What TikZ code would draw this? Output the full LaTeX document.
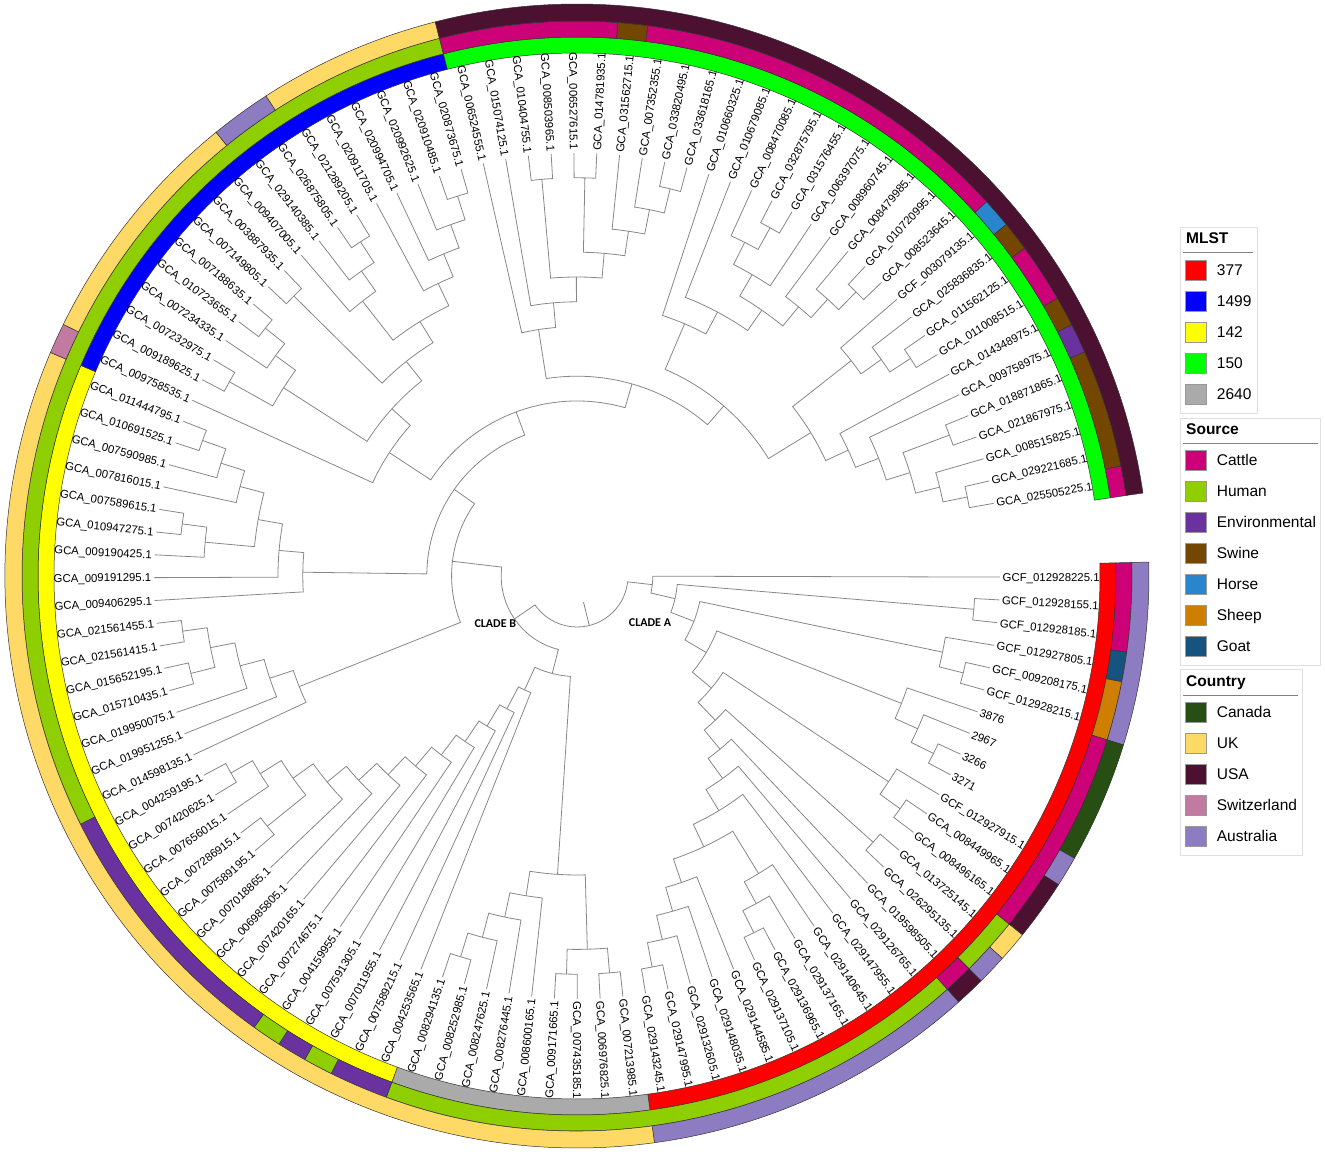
\documentclass[tikz,border=0pt]{standalone}
\usepackage{fontspec}
\setmainfont{Liberation Sans}
\newfontfamily\cladefont{Carlito}
\usepackage{tikz}

\definecolor{c377}{HTML}{FF0000}
\definecolor{c1499}{HTML}{0000FF}
\definecolor{c142}{HTML}{FFFF00}
\definecolor{c150}{HTML}{00FF00}
\definecolor{c2640}{HTML}{AAAAAA}
\definecolor{cattle}{HTML}{CC0077}
\definecolor{human}{HTML}{8FCE00}
\definecolor{environ}{HTML}{6A329F}
\definecolor{swine}{HTML}{744700}
\definecolor{horse}{HTML}{2986CC}
\definecolor{sheep}{HTML}{CE7E00}
\definecolor{goat}{HTML}{16537E}
\definecolor{canada}{HTML}{274E13}
\definecolor{uk}{HTML}{FFD966}
\definecolor{usa}{HTML}{4C1130}
\definecolor{swiss}{HTML}{C27BA0}
\definecolor{australia}{HTML}{8E7CC3}

\newcommand\leaffont{\fontsize{11.4}{12}\selectfont}
\newcommand\legfont{\fontsize{15.5}{17}\selectfont}

% leaf i sits at angle 2.9485-3.097*i, a clade of height h at radius 423-24.8*h
\newcommand\clade[5]{%
  \pgfmathsetmacro\cladeA{2.9485-3.097*(#2)}%
  \pgfmathsetmacro\cladeB{2.9485-3.097*(#4)}%
  \pgfmathsetmacro\cladeR{423-24.8*(#1)}%
  \pgfmathsetmacro\cladeRa{423-24.8*(#3)}%
  \pgfmathsetmacro\cladeRb{423-24.8*(#5)}%
  \draw[branch] (\cladeA:\cladeRa pt) -- (\cladeA:\cladeR pt)
    arc[start angle=\cladeA, end angle=\cladeB, radius=\cladeR pt] -- (\cladeB:\cladeRb pt);}

% ring piece from leaf #3 to leaf #4
\newcommand\ringseg[5]{%
  \pgfmathsetmacro\segS{1.4-3.097*(#3-1)}%
  \pgfmathsetmacro\segE{1.4-3.097*(#4)}%
  \filldraw[ringline, fill=#5] (\segS:#1pt) arc[start angle=\segS, end angle=\segE, radius=#1pt]
    -- (\segE:#2pt) arc[start angle=\segE, end angle=\segS, radius=#2pt] -- cycle;}

\begin{document}
\begin{tikzpicture}[x=1pt, y=1pt,
  branch/.style={draw=black!47, line width=0.8pt},
  ringline/.style={draw=black!80, line width=0.5pt},
  leaflbl/.style={font=\leaffont, inner sep=1.5pt, text height=8.2pt, text depth=0pt},
  cladelbl/.style={font=\fontsize{12}{12}\cladefont\bfseries, inner sep=0pt},
  legbox/.style={draw=black!12, line width=0.7pt},
  legtitle/.style={font=\legfont\bfseries, anchor=west, inner sep=0pt, text height=11pt, text depth=0pt},
  legtext/.style={font=\legfont, anchor=west, inner sep=0pt, text height=11pt, text depth=0pt},
  swatch/.style={draw=black!40, line width=0.6pt, minimum width=21pt, minimum height=20pt, inner sep=0pt}]
\useasboundingbox (-577,-579) rectangle (748,576);

% rings: MLST, Source, Country
\foreach \a/\b/\col in {1/27/c377, 28/36/c2640, 37/66/c142, 67/83/c1499, 84/114/c150}
  {\ringseg{523}{539}{\a}{\b}{\col}}
\foreach \a/\b/\col in {1/3/cattle, 4/4/goat, 5/6/sheep, 7/13/cattle, 14/15/human, 16/16/cattle,
  17/36/human, 37/38/environ, 39/39/human, 40/40/environ, 41/41/human, 42/50/environ, 51/83/human,
  84/89/cattle, 90/90/swine, 91/103/cattle, 104/104/horse, 105/105/swine, 106/107/cattle,
  108/108/swine, 109/109/environ, 110/113/swine, 114/114/cattle}
  {\ringseg{539}{555}{\a}{\b}{\col}}
\foreach \a/\b/\col in {1/6/australia, 7/10/canada, 11/11/australia, 12/13/usa, 14/14/uk,
  15/15/australia, 16/16/usa, 17/27/australia, 28/66/uk, 67/67/swiss, 68/75/uk,
  76/77/australia, 78/83/uk, 84/114/usa}
  {\ringseg{555}{572}{\a}{\b}{\col}}

% cladogram: height / first child index / its height / second child index / its height
\foreach \h/\ia/\ha/\ib/\hb in {
  1/2/0/3/0, 1/5/0/6/0, 2/4/0/5.5/1, 1/9/0/10/0, 2/8/0/9.5/1, 3/7/0/8.75/2,
  1/12/0/13/0, 2/11/0/12.5/1, 1/14/0/15/0, 1/21/0/22/0, 2/20/0/21.5/1, 3/19/0/20.75/2,
  1/26/0/27/0, 2/25/0/26.5/1, 3/24/0/25.75/2, 4/23/0/24.875/3, 5/19.875/3/23.9375/4,
  6/18/0/21.906/5, 7/17/0/19.953/6, 8/16/0/18.477/7, 9/14.5/1/17.238/8,
  10/11.75/2/15.869/9, 11/7.875/3/13.81/10, 12/4.75/2/10.842/11, 13/2.5/1/7.796/12,
  14/1/0/5.148/13,
  1/28/0/29/0, 1/30/0/31/0, 2/28.5/1/30.5/1, 1/35/0/36/0, 2/34/0/35.5/1, 3/33/0/34.75/2,
  4/32/0/33.875/3, 5/29.5/2/32.9375/4,
  1/49/0/50/0, 2/48/0/49.5/1, 1/46/0/47/0, 3/46.5/1/48.75/2, 4/45/0/47.625/3,
  5/44/0/46.3125/4, 6/43/0/45.156/5, 7/42/0/44.078/6, 8/41/0/43.039/7, 9/40/0/42.02/8,
  10/39/0/41.01/9, 11/38/0/40.005/10, 12/37/0/39.0/11, 13/31.219/5/38.0/12,
  1/56/0/57/0, 1/54/0/55/0, 2/54.5/1/56.5/1, 3/53/0/55.5/2, 4/52/0/54.25/3, 5/51/0/53.125/4,
  1/65/0/66/0, 2/64/0/65.5/1, 3/63/0/64.75/2, 1/61/0/62/0, 2/60/0/61.5/1,
  4/60.75/2/63.875/3, 5/59/0/62.3125/4, 6/58/0/60.656/5,
  1/68/0/69/0, 1/71/0/72/0, 2/70/0/71.5/1, 3/68.5/1/70.75/2, 1/73/0/74/0,
  1/77/0/78/0, 2/76/0/77.5/1, 3/75/0/76.75/2, 1/82/0/83/0, 2/81/0/82.5/1, 3/80/0/81.75/2,
  4/79/0/80.875/3, 5/75.875/3/79.9375/4, 6/73.5/1/77.906/5, 7/69.625/3/75.703/6,
  8/67/0/72.664/7,
  1/86/0/87/0, 1/88/0/89/0, 1/92/0/93/0, 2/91/0/92.5/1, 3/90/0/91.75/2, 4/88.5/1/90.875/3,
  5/86.5/1/89.6875/4, 6/85/0/88.094/5, 7/84/0/86.547/6,
  1/113/0/114/0, 2/112/0/113.5/1, 1/110/0/111/0, 3/110.5/1/112.75/2, 4/109/0/111.625/3,
  5/108/0/110.3125/4, 1/106/0/107/0, 2/105/0/106.5/1, 3/104/0/105.75/2,
  6/104.875/3/109.156/5, 1/102/0/103/0, 2/101/0/102.5/1, 3/100/0/101.75/2,
  1/97/0/98/0, 2/96/0/97.5/1, 3/96.75/2/99/0, 4/97.875/3/100.875/3, 5/95/0/99.375/4,
  6/94/0/97.1875/5, 8/95.594/6/107.016/6,
  9/85.273/7/101.305/8, 10/69.832/8/93.29/9, 11/59.328/6/81.56/10, 12/52.0625/5/70.44/11,
  14/34.61/13/61.25/12, 15/3.074/14/47.93/14}
  {\clade{\h}{\ia}{\ha}{\ib}{\hb}}
\draw[branch] (-76.02:27pt) -- (-76.02:51pt);

% leaf labels
\foreach \nm [count=\i] in {GCF\_012928225.1, GCF\_012928155.1, GCF\_012928185.1,
  GCF\_012927805.1, GCF\_009208175.1, GCF\_012928215.1, 3876, 2967, 3266, 3271,
  GCF\_012927915.1, GCA\_008449965.1, GCA\_008496165.1, GCA\_013725145.1, GCA\_026295135.1,
  GCA\_019598505.1, GCA\_029126765.1, GCA\_029147955.1, GCA\_029140645.1, GCA\_029137165.1,
  GCA\_029136965.1, GCA\_029137105.1, GCA\_029144585.1, GCA\_029148035.1, GCA\_029132605.1,
  GCA\_029147995.1, GCA\_029143245.1, GCA\_007213985.1, GCA\_006976825.1, GCA\_007435185.1,
  GCA\_009171665.1, GCA\_008600165.1, GCA\_008276445.1, GCA\_008247625.1, GCA\_008252985.1,
  GCA\_008294135.1, GCA\_004253565.1, GCA\_007589215.1, GCA\_007011955.1, GCA\_007591305.1,
  GCA\_004159955.1, GCA\_007274675.1, GCA\_007420165.1, GCA\_006985805.1, GCA\_007018865.1,
  GCA\_007589195.1, GCA\_007286915.1, GCA\_007656015.1, GCA\_007420625.1, GCA\_004259195.1,
  GCA\_014598135.1, GCA\_019951255.1, GCA\_019950075.1, GCA\_015710435.1, GCA\_015652195.1,
  GCA\_021561415.1, GCA\_021561455.1, GCA\_009406295.1, GCA\_009191295.1, GCA\_009190425.1,
  GCA\_010947275.1, GCA\_007589615.1, GCA\_007816015.1, GCA\_007590985.1, GCA\_010691525.1,
  GCA\_011444795.1, GCA\_009758535.1, GCA\_009189625.1, GCA\_007232975.1, GCA\_007234335.1,
  GCA\_010723655.1, GCA\_007188635.1, GCA\_007149805.1, GCA\_003887935.1, GCA\_009407005.1,
  GCA\_029140385.1, GCA\_026875805.1, GCA\_021289205.1, GCA\_020911705.1, GCA\_020994705.1,
  GCA\_020992625.1, GCA\_020910485.1, GCA\_020873675.1, GCA\_006524555.1, GCA\_015074125.1,
  GCA\_010404755.1, GCA\_008503965.1, GCA\_006527615.1, GCA\_014781935.1, GCA\_031562715.1,
  GCA\_007352355.1, GCA\_033820495.1, GCA\_033618165.1, GCA\_010660325.1, GCA\_010679085.1,
  GCA\_008470085.1, GCA\_032875795.1, GCA\_031576455.1, GCA\_006397075.1, GCA\_008960745.1,
  GCA\_008479985.1, GCA\_010720995.1, GCA\_008523645.1, GCF\_003079135.1, GCA\_025836835.1,
  GCA\_011562125.1, GCA\_011008515.1, GCA\_014348975.1, GCA\_009758975.1, GCA\_018871865.1,
  GCA\_021867975.1, GCA\_008515825.1, GCA\_029221685.1, GCA\_025505225.1} {
  \pgfmathsetmacro\th{2.9485-3.097*\i}
  \pgfmathtruncatemacro\flip{(\th<-90)&&(\th>-270)}
  \pgfmathsetmacro\rot{\th+180}
  \ifnum\flip=1
    \node[leaflbl, anchor=east, rotate=\rot] (leaf\i) at (\th:424pt) {\nm};
  \else
    \node[leaflbl, anchor=west, rotate=\th] (leaf\i) at (\th:424pt) {\nm};
  \fi
}

\node[cladelbl] (cladeB) at (-81.7,-47.3) {CLADE B};
\node[cladelbl] (cladeA) at (73,-46.3) {CLADE A};

% legend
\draw[legbox] (603,163) rectangle (680,349);
\node[legtitle] (mlst) at (609,337.5) {MLST};
\draw[black!50, line width=0.7pt] (606,323.5) -- (676,323.5);
\foreach \col/\t [count=\k from 0] in {c377/377, c1499/1499, c142/142, c150/150, c2640/2640} {
  \node[swatch, fill=\col] (mlstsw\k) at (618.5,{306-31*\k}) {};
  \node[legtext] (mlsttx\k) at (639.7,{306-31*\k}) {\t};
}
\draw[legbox] (603,-89) rectangle (743,158);
\node[legtitle] (source) at (609,147) {Source};
\draw[black!50, line width=0.7pt] (606,132.6) -- (741,132.6);
\foreach \col/\t [count=\k from 0] in {cattle/Cattle, human/Human, environ/Environmental,
  swine/Swine, horse/Horse, sheep/Sheep, goat/Goat} {
  \node[swatch, fill=\col] (srcsw\k) at (618.5,{116-31*\k}) {};
  \node[legtext] (srctx\k) at (639.7,{116-31*\k}) {\t};
}
\draw[legbox] (603,-279) rectangle (725,-93);
\node[legtitle] (country) at (609,-105.5) {Country};
\draw[black!50, line width=0.7pt] (606,-119) -- (721,-119);
\foreach \col/\t [count=\k from 0] in {canada/Canada, uk/UK, usa/USA, swiss/Switzerland,
  australia/Australia} {
  \node[swatch, fill=\col] (ctrsw\k) at (618.5,{-136-31*\k}) {};
  \node[legtext] (ctrtx\k) at (639.7,{-136-31*\k}) {\t};
}
\end{tikzpicture}
\end{document}
